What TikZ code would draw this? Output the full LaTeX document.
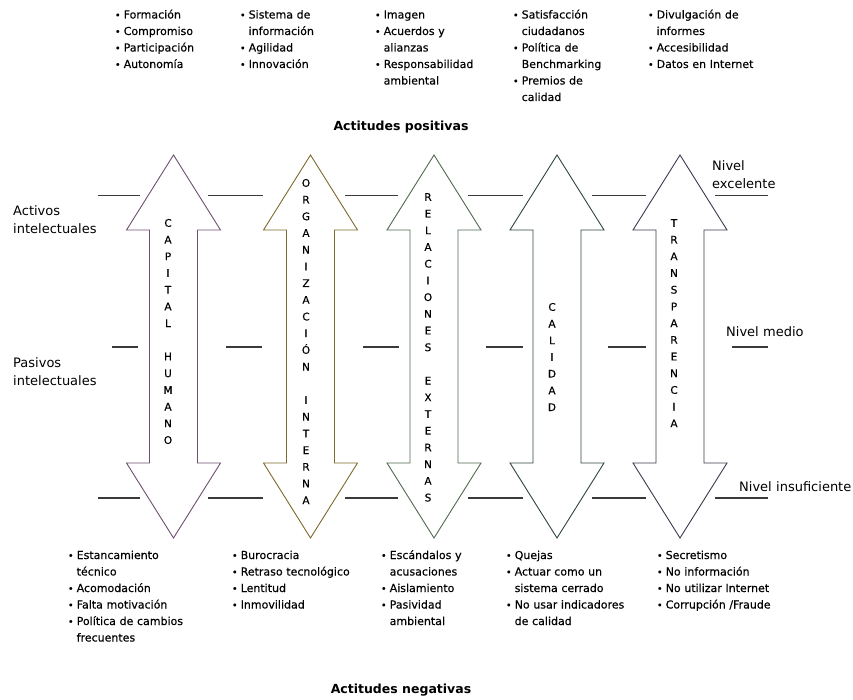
\documentclass[tikz,border=0pt]{standalone}
\usepackage{fontspec}
\setmainfont{DejaVu Sans}
\newfontfamily\heavyfont{DejaVu Sans}[FakeBold=0.35]
\definecolor{arrowA}{HTML}{6E4F70}
\definecolor{arrowB}{HTML}{7E6A2A}
\definecolor{arrowC}{HTML}{506A50}
\definecolor{arrowD}{HTML}{2F4444}
\definecolor{arrowE}{HTML}{3B3B4E}
\definecolor{levelgray}{HTML}{3A3A3A}

% small round bullet followed by the gap before the item text
\newcommand\bul{\makebox[7.5pt][l]{\kern-1.2pt{\fontsize{9.5}{9.5}\selectfont •}}}
\newcommand\cont{\hspace*{7.5pt}}

% double-headed vertical arrow centred on x = #1
\newcommand\dblarrow[2]{%
  \draw[bigarrow,draw=#2] (#1,155) -- (#1+47,230) -- (#1+24,230) -- (#1+24,463)
    -- (#1+47,463) -- (#1,538) -- (#1-47,463) -- (#1-24,463) -- (#1-24,230)
    -- (#1-47,230) -- cycle;}

% letters stacked one below another, #4 = letter/slot pairs
\newcommand\stackword[4]{%
  \foreach \ch/\k in {#4}
    \node[vletter] (#1-\k) at (#2,{#3+16.7*\k+3.8}) {\ch};}

\begin{document}
\begin{tikzpicture}[x=1pt,y=-1pt,
  levelline/.style={draw=levelgray,line width=1.1pt},
  bigarrow/.style={line width=0.9pt,fill=white,line join=miter},
  vletter/.style={inner sep=0pt,anchor=base,font=\heavyfont\fontsize{10.5}{12}\selectfont},
  itemlist/.style={inner sep=0pt,anchor=base west,text width=160pt,align=left,
    font=\heavyfont\fontsize{11}{16.5}\selectfont},
  sidelabel/.style={inner sep=0pt,anchor=base west,text width=120pt,align=left,
    font=\fontsize{13}{18}\selectfont},
  heading/.style={inner sep=0pt,anchor=base,font=\bfseries\fontsize{12.5}{15}\selectfont}]
\useasboundingbox (0,0) rectangle (853,700);

% level guide lines: excellent, medium, insufficient
\foreach \a/\b in {98/140,208/263,345/398,468/523,592/646,715/768}
  \draw[levelline] (\a,195.5) -- (\b,195.5);
\foreach \a/\b in {112/138,226/262,363/399,486/523,608/646,732/768}
  \draw[levelline] (\a,347) -- (\b,347);
\foreach \a/\b in {98/140,208/263,345/398,468/523,592/646,715/768}
  \draw[levelline] (\a,498) -- (\b,498);

% the five axes
\dblarrow{173.5}{arrowA}
\dblarrow{310.5}{arrowB}
\dblarrow{434}{arrowC}
\dblarrow{557}{arrowD}
\dblarrow{680}{arrowE}

\stackword{cap}{168}{223}{C/0,A/1,P/2,I/3,T/4,A/5,L/6,H/8,U/9,M/10,A/11,N/12,O/13}
\stackword{org}{306}{183}{O/0,R/1,G/2,A/3,N/4,I/5,Z/6,A/7,C/8,I/9,Ó/10,N/11,I/13,N/14,T/15,E/16,R/17,N/18,A/19}
\stackword{rel}{428}{197}{R/0,E/1,L/2,A/3,C/4,I/5,O/6,N/7,E/8,S/9,E/11,X/12,T/13,E/14,R/15,N/16,A/17,S/18}
\stackword{cal}{552}{307}{C/0,A/1,L/2,I/3,D/4,A/5,D/6}
\stackword{tra}{674}{223}{T/0,R/1,A/2,N/3,S/4,P/5,A/6,R/7,E/8,N/9,C/10,I/11,A/12}

% side labels
\node[sidelabel] (activos) at (13,216) {Activos\\intelectuales};
\node[sidelabel] (pasivos) at (13,367) {Pasivos\\intelectuales};
\node[sidelabel] (excel) at (712,171) {Nivel\\excelente};
\node[sidelabel] (medio) at (726,336) {Nivel medio};
\node[sidelabel] (insuf) at (739,491) {Nivel insuficiente};

% positive attitudes
\node[itemlist] (pos1) at (116,18.5) {\bul Formación\\\bul Compromiso\\\bul Participación\\\bul Autonomía};
\node[itemlist] (pos2) at (241,18.5) {\bul Sistema de\\\cont información\\\bul Agilidad\\\bul Innovación};
\node[itemlist] (pos3) at (376,18.5) {\bul Imagen\\\bul Acuerdos y\\\cont alianzas\\\bul Responsabilidad\\\cont ambiental};
\node[itemlist] (pos4) at (514,18.5) {\bul Satisfacción\\\cont ciudadanos\\\bul Política de\\\cont Benchmarking\\\bul Premios de\\\cont calidad};
\node[itemlist] (pos5) at (649,18.5) {\bul Divulgación de\\\cont informes\\\bul Accesibilidad\\\bul Datos en Internet};
\node[heading] (positivas) at (401,131) {Actitudes positivas};

% negative attitudes
\node[itemlist] (neg1) at (69,559) {\bul Estancamiento\\\cont técnico\\\bul Acomodación\\\bul Falta motivación\\\bul Política de cambios\\\cont frecuentes};
\node[itemlist] (neg2) at (233,559) {\bul Burocracia\\\bul Retraso tecnológico\\\bul Lentitud\\\bul Inmovilidad};
\node[itemlist] (neg3) at (382,559) {\bul Escándalos y\\\cont acusaciones\\\bul Aislamiento\\\bul Pasividad\\\cont ambiental};
\node[itemlist] (neg4) at (507,559) {\bul Quejas\\\bul Actuar como un\\\cont sistema cerrado\\\bul No usar indicadores\\\cont de calidad};
\node[itemlist] (neg5) at (658,559) {\bul Secretismo\\\bul No información\\\bul No utilizar Internet\\\bul Corrupción /Fraude};
\node[heading] (negativas) at (401,693) {Actitudes negativas};
\end{tikzpicture}
\end{document}
